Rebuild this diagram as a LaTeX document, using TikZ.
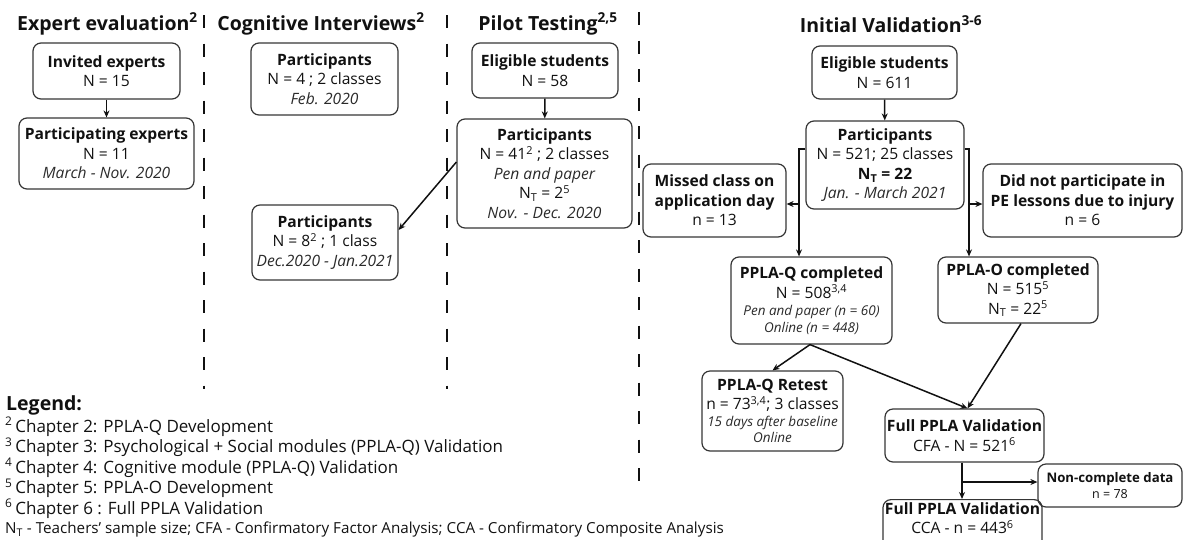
\documentclass[tikz,border=0pt]{standalone}
\usepackage{fontspec}
\setmainfont{Open Sans}
\usetikzlibrary{arrows.meta,calc}

\definecolor{ink}{HTML}{111111}
\definecolor{edge}{HTML}{353535}
\definecolor{soft}{HTML}{2A2A2A}

\newcommand{\sm}[1]{{\fontsize{13.5}{16}\selectfont\itshape\color{soft}#1}}
\newcommand{\itl}[1]{{\itshape\color{soft}#1}}
\newcommand{\lsup}[1]{\textsuperscript{#1}\,}

\begin{document}
\begin{tikzpicture}[x=1pt,y=-1pt,
  box/.style={draw=edge, line width=1.2pt, rounded corners=8pt, align=center,
    text=ink, inner sep=0pt, font=\fontsize{15.6}{19.5}\selectfont},
  wh/.style 2 args={minimum width=#1pt, minimum height=#2pt},
  arr/.style={-{Stealth[length=7pt,width=6pt]}, line width=1.5pt, draw=ink},
  sep/.style={line width=2.2pt, draw=ink, dash pattern=on 13pt off 15.5pt},
  heading/.style={font=\fontsize{19.5}{23}\selectfont\bfseries, text=ink, inner sep=0pt},
  legend/.style={anchor=base west, font=\fontsize{17}{20}\selectfont, text=ink, inner sep=0pt},
]
\useasboundingbox (0,0) rectangle (1184,539);
\clip (0,0) rectangle (1184,539);

% ---- phase separators ----
\draw[sep] (204,15) -- (204,389);
\draw[sep] (447,15) -- (447,389);
\draw[sep] (639,12) -- (639,493);

% ---- headings ----
\node[heading, anchor=west] (hexp) at (17,24) {Expert evaluation\textsuperscript{2}};
\node[heading] (hcog) at (321,24) {Cognitive Interviews\textsuperscript{2}};
\node[heading] (hpil) at (548,24) {Pilot Testing\textsuperscript{2,5}};
\node[heading] (hini) at (891,24) {Initial Validation\textsuperscript{3-6}};

% ---- expert evaluation ----
\node[box, wh={147}{56}] (inv) at (106.5,71) {\textbf{Invited experts}\\N = 15};
\node[box, wh={175}{71}] (pexp) at (106.5,153.5) {\textbf{Participating experts}\\N = 11\\\itl{March - Nov. 2020}};

% ---- cognitive interviews ----
\node[box, wh={147}{72}] (cog1) at (324.5,79) {\textbf{Participants}\\N = 4 ; 2 classes\\\itl{Feb. 2020}};
\node[box, wh={146}{75}] (cog2) at (325,242.5) {\textbf{Participants}\\N = 8\textsuperscript{2} ; 1 class\\\itl{Dec.2020 - Jan.2021}};

% ---- pilot testing ----
\node[box, wh={146}{55}] (pel) at (545,70.5) {\textbf{Eligible students}\\N = 58};
\node[box, wh={175}{109}] (ppar) at (544.5,173.5) {\textbf{Participants}\\N = 41\textsuperscript{2} ; 2 classes\\\itl{Pen and paper}\\N\textsubscript{T} = 2\textsuperscript{5}\\\itl{Nov. - Dec. 2020}};

% ---- initial validation ----
\node[box, wh={145}{53}] (iel) at (884.5,72.5) {\textbf{Eligible students}\\N = 611};
\node[box, wh={158}{88}] (ipar) at (885,165) {\textbf{Participants}\\N = 521; 25 classes\\\textbf{N\textsubscript{T} = 22}\\\itl{Jan. - March 2021}};
\node[box, wh={143}{73}] (miss) at (714.5,200.5) {\textbf{Missed class on}\\\textbf{application day}\\n = 13};
\node[box, wh={199}{73}] (inj) at (1082.5,200.5) {\textbf{Did not participate in}\\\textbf{PE lessons due to injury}\\n = 6};
\node[box, wh={161}{87}] (pq) at (811.5,300.5) {\textbf{PPLA-Q completed}\\N = 508\textsuperscript{3,4}\\[-2pt]\sm{Pen and paper (n = 60)}\\[-3pt]\sm{Online (n = 448)}};
\node[box, wh={160}{66}] (po) at (1018,290) {\textbf{PPLA-O completed}\\N = 515\textsuperscript{5}\\N\textsubscript{T} = 22\textsuperscript{5}};
\node[box, wh={141}{80}] (ret) at (772.5,411) {\textbf{PPLA-Q Retest}\\n = 73\textsuperscript{3,4}; 3 classes\\[-3pt]\sm{15 days after baseline}\\[-3pt]\sm{Online}};
\node[box, wh={159}{53}] (fp1) at (964.5,435.5) {\textbf{Full PPLA Validation}\\CFA - N = 521\textsuperscript{6}};
\node[box, wh={144}{43}, font=\fontsize{13.2}{16}\selectfont] (nc) at (1110,485.5) {\textbf{Non-complete data}\\{\fontsize{12.5}{15}\selectfont n = 78}};
\node[box, wh={159}{56}, anchor=north, inner ysep=3pt] (fp2) at (962.5,499) {\textbf{Full PPLA Validation}\\CCA - n = 443\textsuperscript{6}\\[4pt]\mbox{}};

% ---- connectors ----
\draw[arr] (inv) -- (pexp);
\draw[arr] (pel) -- (ppar);
\draw[arr] ([yshift=11.5pt]ppar.west) -- ([yshift=12.5pt]cog2.east);
\draw[arr] (iel) -- (ipar);

\coordinate (lt) at (799,149);
\coordinate (lj) at (799,204);
\coordinate (rt) at (969,149);
\coordinate (rj) at (969,204);
\draw[arr] (ipar.west |- lt) -- (lt) -- (lt |- pq.north);
\draw[arr] (lj) -- (lj -| miss.east);
\draw[arr] (ipar.east |- rt) -- (rt) -- (rt |- po.north);
\draw[arr] (rj) -- (rj -| inj.west);

\coordinate (fin) at ([xshift=3pt]fp1.north);
\draw[arr] ([xshift=-1.5pt]pq.south) -- (ret.north);
\draw[arr] ([xshift=-1.5pt]pq.south) -- (fin);
\draw[arr] ([xshift=3pt]po.south) -- (fin);

\coordinate (dn) at (962,482);
\draw[arr] (dn |- fp1.south) -- (dn |- fp2.north);
\draw[arr] (dn) -- (dn -| nc.west);

% ---- legend ----
\node[anchor=base west, inner sep=0pt, font=\fontsize{19.5}{23}\selectfont\bfseries, text=ink] (lg) at (6,410) {Legend:};
\node[legend] (l2) at (5,432) {\lsup{2}Chapter 2: PPLA-Q Development};
\node[legend] (l3) at (5,452.5) {\lsup{3}Chapter 3: Psychological + Social modules (PPLA-Q) Validation};
\node[legend] (l4) at (5,473) {\lsup{4}Chapter 4: Cognitive module (PPLA-Q) Validation};
\node[legend] (l5) at (5,493.5) {\lsup{5}Chapter 5: PPLA-O Development};
\node[legend] (l6) at (5,514) {\lsup{6}Chapter 6 : Full PPLA Validation};
\node[legend, font=\fontsize{15.2}{18}\selectfont] (lnt) at (5,533.5) {N\textsubscript{T} - Teachers’ sample size; CFA - Confirmatory Factor Analysis; CCA - Confirmatory Composite Analysis};
\end{tikzpicture}
\end{document}
